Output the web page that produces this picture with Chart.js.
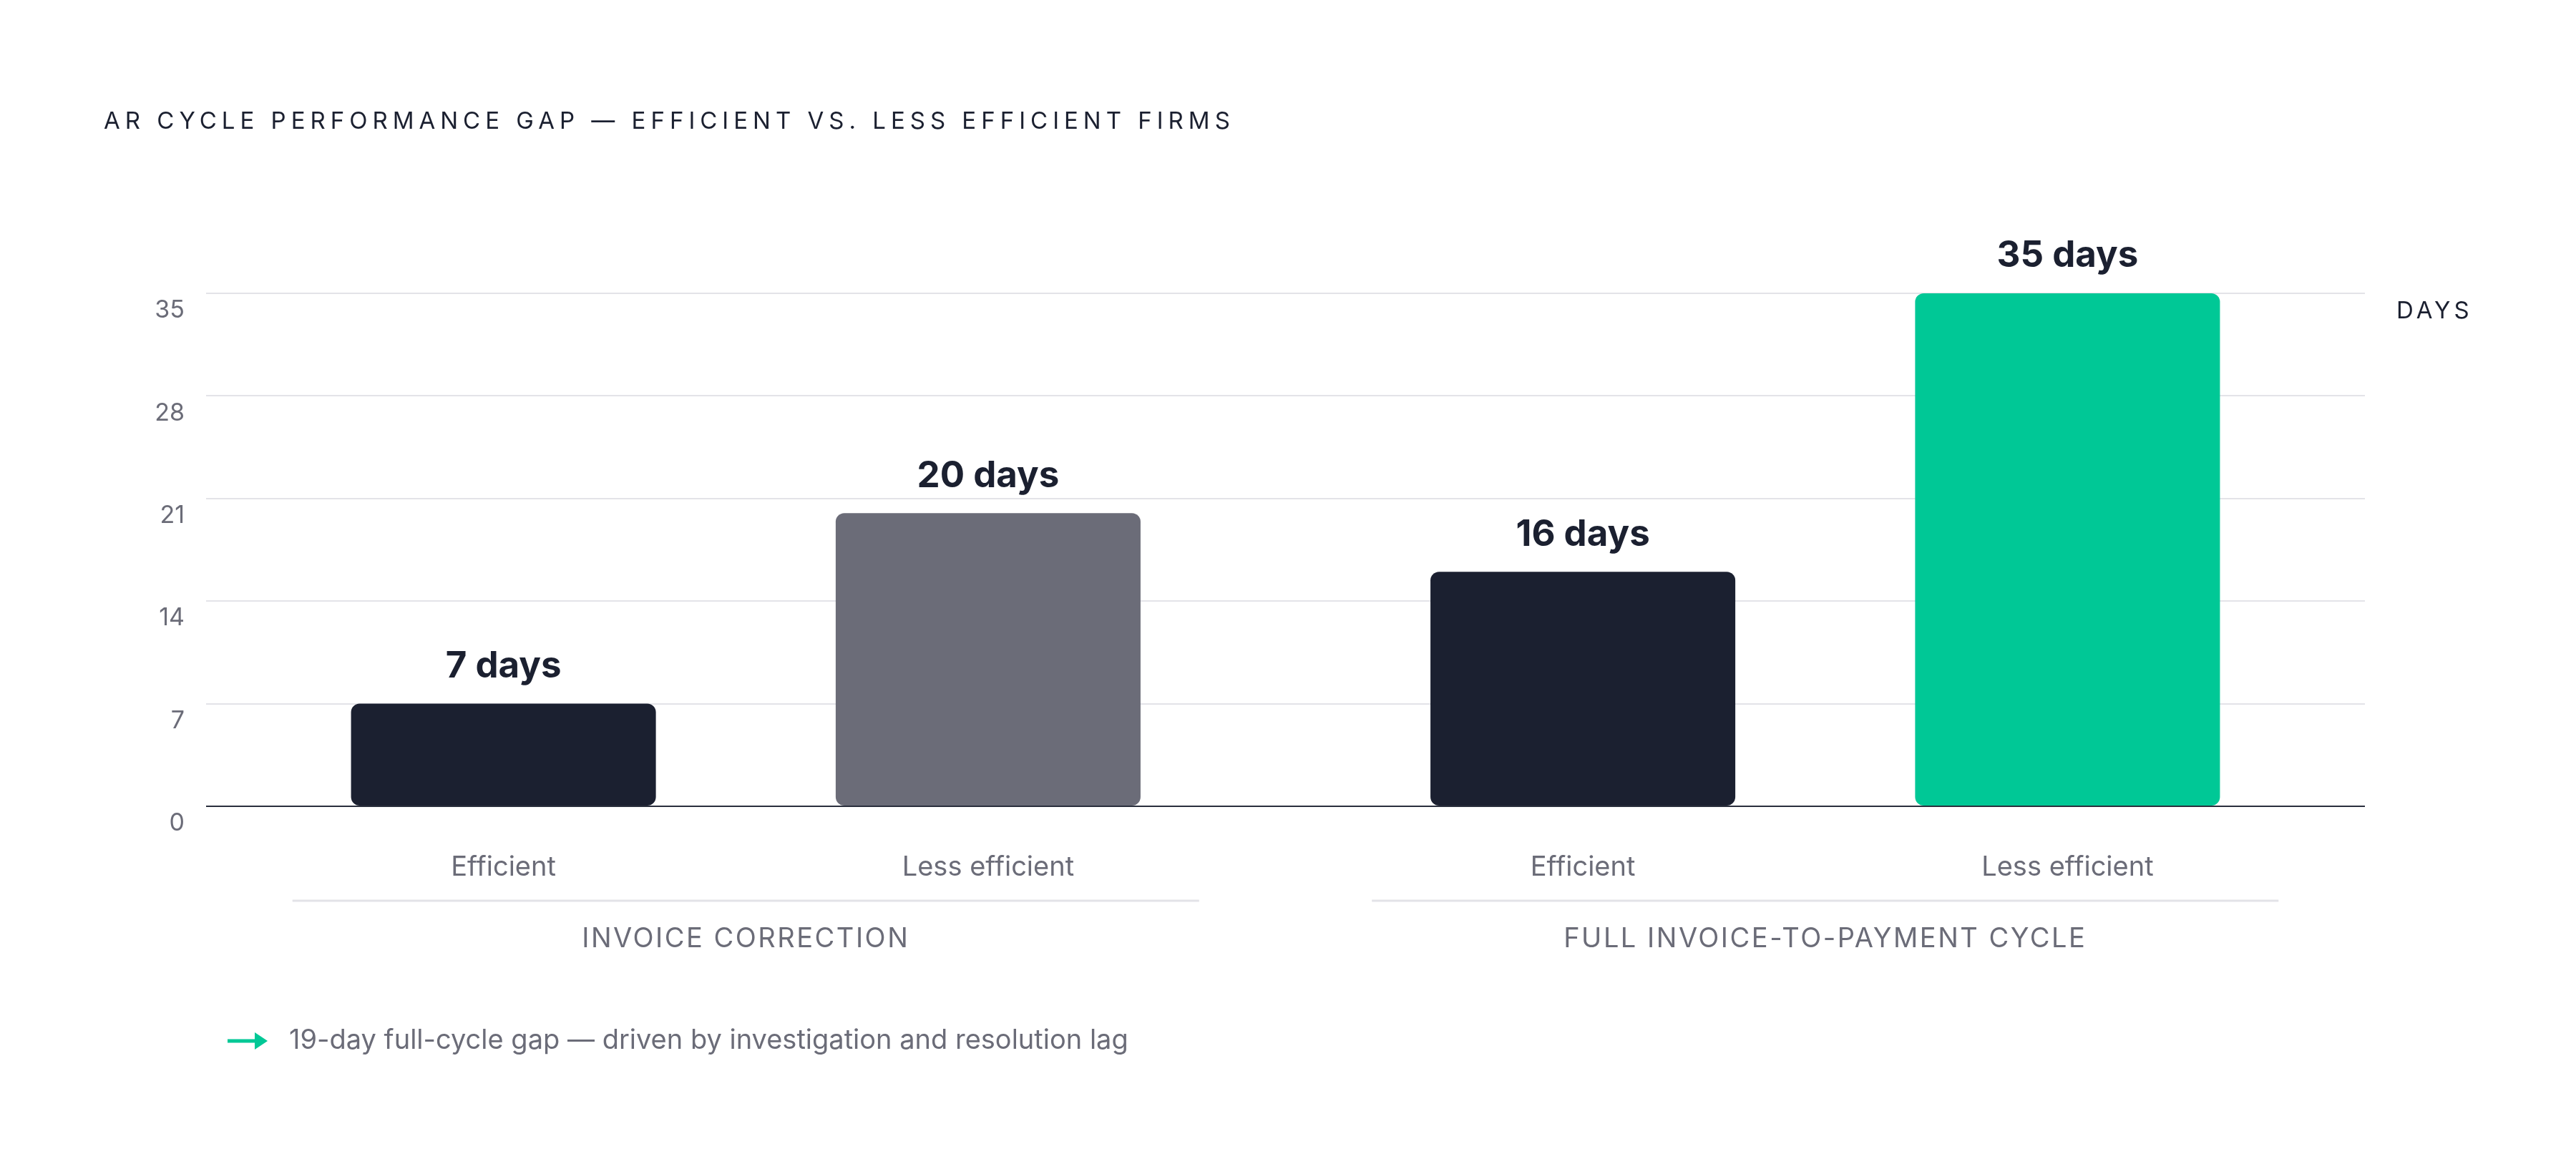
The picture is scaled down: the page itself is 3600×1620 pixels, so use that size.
<!DOCTYPE html>
<html>
<head>
<meta charset="utf-8">
<script src="https://cdn.jsdelivr.net/npm/chart.js@4.4.1/dist/chart.umd.min.js"></script>
<style>
  html, body { margin: 0; padding: 0; background: #ffffff; }
  #wrap { position: relative; width: 3600px; height: 1620px; }
</style>
</head>
<body>
<div id="wrap"><canvas id="gapChart"></canvas></div>
<script>
// chart data
const groupLabels = ['INVOICE CORRECTION', 'FULL INVOICE-TO-PAYMENT CYCLE'];
const tierLabels = ['Efficient', 'Less efficient'];
const efficientDays = [7, 16];
const lessEfficientDays = [20, 35];
const yTickStep = 7;
const yMax = 35;
const chartTitle = 'AR CYCLE PERFORMANCE GAP \u2014 EFFICIENT VS. LESS EFFICIENT FIRMS';
const axisUnit = 'DAYS';
const footnote = '19-day full-cycle gap \u2014 driven by investigation and resolution lag';

const DARK = '#1b2030';
const GREY = '#6b6c78';
const GREEN = '#00c896';
const GRID = '#e3e3e8';

function drawText (ctx, str, x, y, opts) {
  ctx.font = opts.font;
  ctx.fillStyle = opts.color;
  ctx.textAlign = opts.align || 'center';
  ctx.textBaseline = 'middle';
  ctx.letterSpacing = opts.spacing || '0px';
  ctx.fillText(str, x, y);
  ctx.letterSpacing = '0px';
}

const annotate = {
  id: 'annotate',
  afterDraw: function (chart) {
    const ctx = chart.ctx,
      area = chart.chartArea,
      xs = chart.scales.x,
      ys = chart.scales.y;

    ctx.save();

    drawText(ctx, chartTitle, 145, 170, {font: '400 33px Inter', color: DARK, align: 'left', spacing: '7px'});

    // value labels above bars + tier names below
    chart.data.datasets.forEach(function (ds, di) {
      chart.getDatasetMeta(di).data.forEach(function (bar, i) {
        drawText(ctx, ds.data[i] + ' days', bar.x, bar.y - 52, {font: '700 51px Inter', color: DARK});
        drawText(ctx, tierLabels[di], bar.x, area.bottom + 86, {font: '400 38px Inter', color: GREY});
      });
    });

    // group dividers and group names
    const half = (xs.right - xs.left) / groupLabels.length * 0.42;
    groupLabels.forEach(function (g, i) {
      const cx = xs.getPixelForValue(i);
      ctx.strokeStyle = GRID;
      ctx.lineWidth = 3;
      ctx.beginPath();
      ctx.moveTo(cx - half, area.bottom + 132);
      ctx.lineTo(cx + half, area.bottom + 132);
      ctx.stroke();
      drawText(ctx, g, cx, area.bottom + 186, {font: '400 38px Inter', color: GREY, spacing: '2.5px'});
    });

    drawText(ctx, axisUnit, area.right + 44, ys.getPixelForValue(yMax) + 25, {font: '400 33px Inter', color: DARK, align: 'left', spacing: '5px'});

    // footnote arrow
    ctx.strokeStyle = GREEN;
    ctx.fillStyle = GREEN;
    ctx.lineWidth = 5;
    ctx.beginPath();
    ctx.moveTo(318, 1455);
    ctx.lineTo(360, 1455);
    ctx.stroke();
    ctx.beginPath();
    ctx.moveTo(374, 1455);
    ctx.lineTo(356, 1443);
    ctx.lineTo(356, 1467);
    ctx.closePath();
    ctx.fill();
    drawText(ctx, footnote, 404, 1455, {font: '400 38px Inter', color: GREY, align: 'left'});

    ctx.restore();
  }
};

new Chart(document.getElementById('gapChart'), {
  type: 'bar',
  data: {
    labels: groupLabels,
    datasets: [
      {
        label: tierLabels[0],
        data: efficientDays,
        backgroundColor: [DARK, DARK],
        borderRadius: 12,
        borderSkipped: false
      },
      {
        label: tierLabels[1],
        data: lessEfficientDays,
        backgroundColor: [GREY, GREEN],
        borderRadius: 12,
        borderSkipped: false
      }
    ]
  },
  options: {
    responsive: true,
    maintainAspectRatio: false,
    animation: false,
    devicePixelRatio: 1,
    categoryPercentage: 0.898,
    barPercentage: 0.629,
    layout: {padding: {left: 0, right: 295, top: 410, bottom: 493}},
    plugins: {legend: {display: false}, title: {display: false}, tooltip: {enabled: false}},
    scales: {
      x: {display: false},
      y: {
        min: 0,
        max: yMax,
        z: 1,
        afterFit: function (scale) { scale.width = 288; },
        border: {display: false},
        grid: {
          drawTicks: false,
          lineWidth: 2,
          color: function (c) { return c.tick && c.tick.value === 0 ? '#2a2f3d' : GRID; }
        },
        ticks: {
          stepSize: yTickStep,
          padding: 30,
          labelOffset: 24,
          color: GREY,
          font: {family: 'Inter', size: 34}
        }
      }
    }
  },
  plugins: [annotate]
});
</script>
</body>
</html>
